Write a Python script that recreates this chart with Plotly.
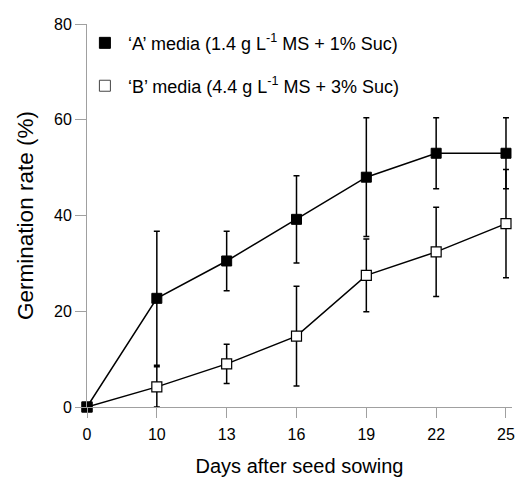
import plotly.graph_objects as go

days = ["0", "10", "13", "16", "19", "22", "25"]
a_mean = [0, 22.7, 30.5, 39.2, 48.0, 53.0, 53.0]
a_err = [0, 14.0, 6.2, 9.1, 12.4, 7.4, 7.4]
b_mean = [0, 4.2, 9.0, 14.8, 27.5, 32.4, 38.3]
b_err = [0, 4.2, 4.1, 10.4, 7.6, 9.3, 11.3]
y_ticks = [0, 20, 40, 60, 80]
label_a = "‘A’ media (1.4 g L<sup>-1</sup> MS + 1% Suc)"
label_b = "‘B’ media (4.4 g L<sup>-1</sup> MS + 3% Suc)"

xi = list(range(len(days)))
FONT = "Liberation Sans, Arial, sans-serif"

fig = go.Figure()
fig.add_trace(go.Scatter(
    x=xi, y=b_mean, mode="lines+markers", showlegend=False, cliponaxis=False,
    line=dict(color="black", width=1.5),
    marker=dict(symbol="square", size=10, color="white", line=dict(color="black", width=1.2)),
    error_y=dict(type="data", array=b_err, visible=True, color="black", thickness=1.5, width=3),
))
fig.add_trace(go.Scatter(
    x=xi, y=a_mean, mode="lines+markers", showlegend=False, cliponaxis=False,
    line=dict(color="black", width=1.5),
    marker=dict(symbol="square", size=10, color="black", line=dict(color="black", width=1)),
    error_y=dict(type="data", array=a_err, visible=True, color="black", thickness=1.5, width=3),
))
fig.add_trace(go.Scatter(
    x=[None], y=[None], mode="markers", name=label_a, legend="legend",
    marker=dict(symbol="square", size=11, color="black", line=dict(color="black", width=1)),
))
fig.add_trace(go.Scatter(
    x=[None], y=[None], mode="markers", name=label_b, legend="legend2",
    marker=dict(symbol="square", size=11, color="white", line=dict(color="#444", width=1)),
))

leg = dict(bgcolor="rgba(0,0,0,0)", font=dict(family=FONT, size=18, color="black"),
           xanchor="left", yanchor="middle", itemwidth=36)
fig.update_layout(
    width=515, height=469,
    margin=dict(l=79, r=11, t=16, b=70, autoexpand=False),
    plot_bgcolor="white", paper_bgcolor="white",
    font=dict(family=FONT, size=16, color="black"),
    legend=dict(leg, x=-0.012, y=0.950),
    legend2=dict(leg, x=-0.012, y=0.838),
    xaxis=dict(
        range=[0, 6.086], tickmode="array", tickvals=xi, ticktext=days,
        showline=True, linecolor="#a0a0a0", linewidth=1,
        ticks="outside", ticklen=10, tickcolor="#a0a0a0", ticklabelstandoff=3,
        showgrid=False, zeroline=False, automargin=False,
        title=dict(text="Days after seed sowing", font=dict(size=20), standoff=17),
    ),
    yaxis=dict(
        range=[0, 80], tickvals=y_ticks,
        showline=True, linecolor="#a0a0a0", linewidth=1,
        ticks="outside", ticklen=11, tickcolor="#a0a0a0",
        showgrid=False, zeroline=False, automargin=False,
        title=dict(text="Germination rate (%)", font=dict(size=22.5), standoff=14),
    ),
)
fig.write_html("out.html")
